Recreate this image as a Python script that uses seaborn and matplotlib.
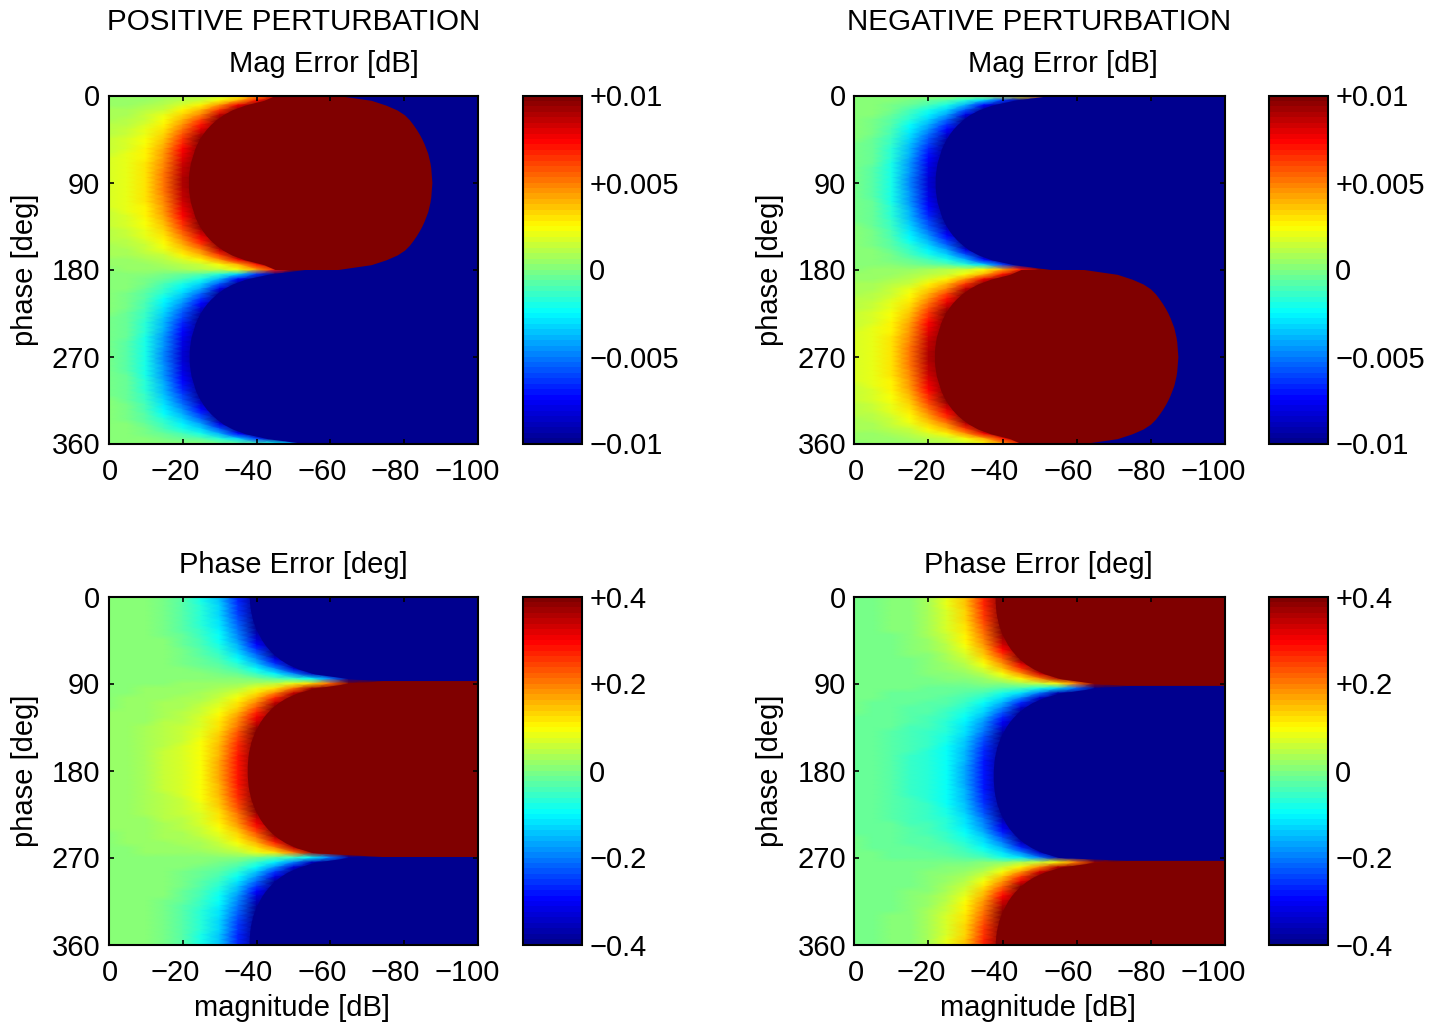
import numpy as np
import matplotlib
matplotlib.use("Agg")
import matplotlib.pyplot as plt
from matplotlib.colors import LinearSegmentedColormap
from matplotlib.transforms import ScaledTranslation
import seaborn as sns

# Values, in 1/100 of each colour range.
# Columns: magnitude 0, -5, ... dB. Rows: distance from the lobe edge, 0, 5, ... 90 deg.
MAG_RED_LOBE = [
    [3, 4, 4, 5, 7, 10, 15, 24, 41, 70, 100, 100, 100, -100],
    [4, 5, 5, 7, 10, 15, 24, 40, 69, 100, 100, 100, 100, 100],
    [5, 6, 8, 11, 18, 26, 45, 78, 100, 100, 100, 100, 100, 100],
    [7, 8, 10, 15, 25, 38, 65, 100, 100, 100, 100, 100, 100, 100],
    [8, 9, 13, 19, 32, 49, 85, 100, 100, 100, 100, 100, 100, 100],
    [9, 11, 15, 23, 39, 60, 100, 100, 100, 100, 100, 100, 100, 100],
    [10, 12, 17, 27, 45, 70, 100, 100, 100, 100, 100, 100, 100, 100],
    [11, 13, 19, 31, 52, 80, 100, 100, 100, 100, 100, 100, 100, 100],
    [12, 15, 21, 34, 58, 90, 100, 100, 100, 100, 100, 100, 100, 100],
    [13, 16, 23, 37, 63, 98, 100, 100, 100, 100, 100, 100, 100, 100],
    [14, 17, 24, 40, 68, 100, 100, 100, 100, 100, 100, 100, 100, 100],
    [14, 18, 26, 42, 73, 100, 100, 100, 100, 100, 100, 100, 100, 100],
    [15, 19, 27, 45, 77, 100, 100, 100, 100, 100, 100, 100, 100, 100],
    [16, 19, 28, 46, 80, 100, 100, 100, 100, 100, 100, 100, 100, 100],
    [16, 20, 29, 48, 83, 100, 100, 100, 100, 100, 100, 100, 100, 100],
    [17, 20, 30, 49, 85, 100, 100, 100, 100, 100, 100, 100, 100, 100],
    [17, 21, 31, 50, 87, 100, 100, 100, 100, 100, 100, 100, 100, 100],
    [17, 21, 31, 51, 88, 100, 100, 100, 100, 100, 100, 100, 100, 100],
    [17, 21, 31, 51, 88, 100, 100, 100, 100, 100, 100, 100, 100, 100],
]
MAG_BLUE_LOBE = [
    [3, 3, 3, 2, 1, 0, -2, -6, -12, -24, -45, -83, -100, -100],
    [3, 2, 1, -1, -4, -9, -18, -34, -63, -100, -100, -100, -100, -100],
    [2, 1, -1, -6, -12, -20, -39, -72, -100, -100, -100, -100, -100, -100],
    [2, 0, -3, -10, -19, -32, -59, -100, -100, -100, -100, -100, -100, -100],
    [1, 0, -5, -14, -26, -43, -79, -100, -100, -100, -100, -100, -100, -100],
    [1, -1, -7, -18, -33, -54, -98, -100, -100, -100, -100, -100, -100, -100],
    [1, -2, -9, -22, -40, -65, -100, -100, -100, -100, -100, -100, -100, -100],
    [0, -3, -10, -26, -46, -74, -100, -100, -100, -100, -100, -100, -100, -100],
    [0, -3, -12, -29, -52, -84, -100, -100, -100, -100, -100, -100, -100, -100],
    [0, -4, -13, -32, -57, -92, -100, -100, -100, -100, -100, -100, -100, -100],
    [-1, -5, -15, -35, -62, -100, -100, -100, -100, -100, -100, -100, -100, -100],
    [-1, -5, -16, -38, -67, -100, -100, -100, -100, -100, -100, -100, -100, -100],
    [-1, -6, -17, -40, -71, -100, -100, -100, -100, -100, -100, -100, -100, -100],
    [-2, -6, -18, -42, -74, -100, -100, -100, -100, -100, -100, -100, -100, -100],
    [-2, -6, -19, -44, -77, -100, -100, -100, -100, -100, -100, -100, -100, -100],
    [-2, -7, -19, -45, -79, -100, -100, -100, -100, -100, -100, -100, -100, -100],
    [-2, -7, -20, -46, -81, -100, -100, -100, -100, -100, -100, -100, -100, -100],
    [-2, -7, -20, -47, -82, -100, -100, -100, -100, -100, -100, -100, -100, -100],
    [-2, -7, -20, -47, -82, -100, -100, -100, -100, -100, -100, -100, -100, -100],
]
MAG_NEG_TOP_ROW = [3, 3, 3, 4, 4, 5, 6, 9, 14, 24, 45, 80, -100, -100]
# dB where saturation starts and where the red lobe ends, rows 0, 5, ... 90 deg
MAG_RED_START_DB = [45, 42, 36.8, 33.3, 30.9, 29.1, 27.6, 26.4, 25.4, 24.6, 23.9, 23.3,
                    22.9, 22.5, 22.1, 21.9, 21.7, 21.6, 21.6]
MAG_BLUE_START_DB = [53, 43, 37, 33.5, 31, 29.3, 27.8, 26.6, 25.6, 24.8, 24.1, 23.5,
                     23.1, 22.7, 22.3, 22.1, 21.9, 21.8, 21.8]
MAG_RED_END_DB = [62, 71, 75, 78, 80, 81.3, 82.3, 83.2, 84, 84.7, 85.3, 85.8,
                  86.3, 86.6, 86.9, 87.1, 87.2, 87.3, 87.4]

# Phase error, positive perturbation, rows 0, 5, ... 85 deg (blue) and 90 ... 180 deg (red)
PHASE_BLUE_ROWS = [
    [3, 2, 0, -2, -9, -19, -35, -67, -100, -100, -100, -100, -100, -100, -100, -100],
    [3, 2, 0, -2, -9, -19, -35, -66, -100, -100, -100, -100, -100, -100, -100, -100],
    [3, 2, 0, -2, -9, -18, -34, -65, -100, -100, -100, -100, -100, -100, -100, -100],
    [3, 2, 0, -2, -8, -18, -33, -64, -100, -100, -100, -100, -100, -100, -100, -100],
    [3, 2, 0, -2, -8, -17, -32, -62, -100, -100, -100, -100, -100, -100, -100, -100],
    [3, 2, 0, -1, -8, -17, -31, -59, -100, -100, -100, -100, -100, -100, -100, -100],
    [3, 2, 0, -1, -7, -16, -29, -56, -100, -100, -100, -100, -100, -100, -100, -100],
    [3, 2, 1, -1, -7, -14, -27, -53, -96, -100, -100, -100, -100, -100, -100, -100],
    [3, 2, 1, -1, -6, -13, -25, -49, -89, -100, -100, -100, -100, -100, -100, -100],
    [3, 2, 1, 0, -5, -12, -23, -44, -82, -100, -100, -100, -100, -100, -100, -100],
    [3, 2, 1, 0, -4, -10, -20, -40, -73, -100, -100, -100, -100, -100, -100, -100],
    [3, 2, 1, 0, -3, -9, -17, -35, -64, -100, -100, -100, -100, -100, -100, -100],
    [3, 3, 2, 1, -3, -7, -15, -29, -55, -99, -100, -100, -100, -100, -100, -100],
    [3, 3, 2, 1, -2, -5, -12, -24, -45, -81, -100, -100, -100, -100, -100, -100],
    [3, 3, 2, 1, -1, -4, -8, -18, -35, -63, -100, -100, -100, -100, -100, -100],
    [3, 3, 2, 2, 0, -2, -5, -12, -24, -45, -83, -100, -100, -100, -100, -100],
    [3, 3, 3, 2, 1, 0, -2, -6, -13, -26, -49, -89, -100, -100, -100, -100],
    [3, 3, 3, 3, 2, 2, 1, 0, -3, -7, -15, -28, -52, -94, -100, -100],
]
PHASE_RED_ROWS = [
    [3, 3, 3, 3, 4, 4, 5, 6, 8, 12, 20, 33, 56, 98, 100, 100],
    [3, 3, 4, 4, 5, 6, 8, 12, 19, 31, 53, 92, 100, 100, 100, 100],
    [3, 3, 4, 5, 6, 8, 11, 18, 29, 49, 85, 100, 100, 100, 100, 100],
    [3, 4, 5, 6, 7, 9, 14, 23, 39, 68, 100, 100, 100, 100, 100, 100],
    [3, 4, 5, 7, 8, 11, 18, 29, 49, 85, 100, 100, 100, 100, 100, 100],
    [3, 4, 5, 8, 9, 13, 21, 34, 58, 100, 100, 100, 100, 100, 100, 100],
    [4, 4, 6, 8, 11, 14, 23, 40, 67, 100, 100, 100, 100, 100, 100, 100],
    [4, 4, 6, 9, 12, 16, 26, 44, 76, 100, 100, 100, 100, 100, 100, 100],
    [4, 4, 6, 10, 12, 17, 29, 49, 84, 100, 100, 100, 100, 100, 100, 100],
    [4, 4, 7, 10, 13, 18, 31, 53, 91, 100, 100, 100, 100, 100, 100, 100],
    [4, 5, 7, 11, 14, 20, 33, 57, 98, 100, 100, 100, 100, 100, 100, 100],
    [4, 5, 7, 11, 15, 21, 35, 60, 100, 100, 100, 100, 100, 100, 100, 100],
    [4, 5, 7, 12, 15, 22, 37, 63, 100, 100, 100, 100, 100, 100, 100, 100],
    [4, 5, 8, 12, 16, 22, 38, 66, 100, 100, 100, 100, 100, 100, 100, 100],
    [4, 5, 8, 13, 16, 23, 39, 68, 100, 100, 100, 100, 100, 100, 100, 100],
    [4, 5, 8, 13, 17, 23, 40, 69, 100, 100, 100, 100, 100, 100, 100, 100],
    [4, 5, 8, 13, 17, 24, 41, 70, 100, 100, 100, 100, 100, 100, 100, 100],
    [4, 5, 8, 13, 17, 24, 41, 71, 100, 100, 100, 100, 100, 100, 100, 100],
    [4, 5, 8, 13, 17, 24, 41, 71, 100, 100, 100, 100, 100, 100, 100, 100],
]
# dB where saturation starts, rows 0 ... 85 deg and 90 ... 180 deg
PHASE_BLUE_START_DB = [38, 38.1, 38.2, 38.4, 38.7, 39, 39.5, 40, 40.7, 41.4, 42.3, 43.4,
                       44.7, 46.3, 48.4, 51.3, 55.6, 65]
PHASE_RED_START_DB = [64.6, 55.2, 50.8, 47.9, 45.8, 44.2, 42.9, 41.8, 40.9, 40.2, 39.5,
                      39, 38.5, 38.2, 37.9, 37.7, 37.6, 37.5, 37.5]
PHASE_STEP_TIP_DB = 74
# phase where the red/blue step sits at large attenuation
PHASE_STEP_POS_DEG = [87, 269]
PHASE_STEP_NEG_DEG = [92, 273]

MAG_RANGE = 0.01
PHASE_RANGE = 0.4
MAG_TICKS = [0.01, 0.005, 0, -0.005, -0.01]
MAG_TICKLABELS = ["+0.01", "+0.005", "0", "\u22120.005", "\u22120.01"]
PHASE_TICKS = [0.4, 0.2, 0, -0.2, -0.4]
PHASE_TICKLABELS = ["+0.4", "+0.2", "0", "\u22120.2", "\u22120.4"]
X_TICKS_DB = [0, 20, 40, 60, 80, 100]
X_TICKLABELS = ["0", "\u221220", "\u221240", "\u221260", "\u221280", "\u2212100"]
Y_TICKS_DEG = [0, 90, 180, 270, 360]
Y_TICKLABELS = ["0", "90", "180", "270", "360"]
X_LABEL_SHIFT_PX = [1, -7, -8, -8, -9, -11]

W, H = 1445, 1028
DB_STEP, DEG_STEP, N_COLS = 5, 5, 21
DARK_BLUE = (0, 0, 0.5625)
DARK_RED = (0.5, 0, 0)

sns.set_theme(style="white")
plt.rcParams["font.family"] = ["Liberation Sans", "DejaVu Sans"]
plt.rcParams["font.size"] = 21
plt.rcParams["text.color"] = "black"
plt.rcParams["axes.labelcolor"] = "black"
plt.rcParams["xtick.color"] = "black"
plt.rcParams["ytick.color"] = "black"

jet64 = LinearSegmentedColormap.from_list(
    "matlab_jet",
    [(0, DARK_BLUE), (1 / 8, (0, 0, 1)), (3 / 8, (0, 1, 1)), (5 / 8, (1, 1, 0)),
     (7 / 8, (1, 0, 0)), (1, DARK_RED)],
    N=64,
)


def widen(rows):
    rows = np.asarray(rows, dtype=float)
    return np.pad(rows, ((0, 0), (0, N_COLS - rows.shape[1])), mode="edge")


red = widen(MAG_RED_LOBE)
blue = widen(MAG_BLUE_LOBE)
top_row = widen([MAG_NEG_TOP_ROW])
mag_pos = np.vstack([red, red[-2::-1], blue[1:], blue[-2::-1]]) * MAG_RANGE / 100
mag_neg = np.vstack([top_row, blue[1:], blue[-2:0:-1], red[:1], red[1:], red[-2::-1]]) * MAG_RANGE / 100

pb = widen(PHASE_BLUE_ROWS)
pr = widen(PHASE_RED_ROWS)
phase_pos = np.vstack([pb, pr, pr[-2:0:-1], pb[::-1], pb[:1]]) * PHASE_RANGE / 100
phase_neg = -np.roll(phase_pos, 1, axis=0)

fig = plt.figure(figsize=(W / 100, H / 100), dpi=100)


def px_axes(x0, y0, x1, y1):
    return fig.add_axes([x0 / W, 1 - y1 / H, (x1 - x0) / W, (y1 - y0) / H])


def panel(data, rng, ticks, ticklabels, left, top, cb_left, title, title_x, xlabel=False):
    ax = px_axes(left, top, left + 370, top + 348)
    cax = px_axes(cb_left, top, cb_left + 59, top + 348)
    sns.heatmap(data, ax=ax, cbar_ax=cax, cmap=jet64, vmin=-rng, vmax=rng,
                shading="gouraud", xticklabels=False, yticklabels=False,
                cbar_kws={"ticks": ticks})
    ax.set_xlim(0, N_COLS - 1)
    ax.set_ylim(data.shape[0] - 1, 0)
    ax.set_axisbelow(False)
    ax.set_xticks([v / DB_STEP for v in X_TICKS_DB], X_TICKLABELS)
    ax.set_yticks([v / DEG_STEP for v in Y_TICKS_DEG], Y_TICKLABELS, rotation=0)
    ax.tick_params(axis="both", which="major", direction="in", length=3.5, width=1.2, color="black",
                   labelcolor="black", top=True, right=True, bottom=True, left=True, labelsize=21)
    ax.tick_params(axis="x", pad=10.3)
    ax.tick_params(axis="y", pad=6)
    for lab, dx in zip(ax.get_xticklabels(), X_LABEL_SHIFT_PX):
        lab.set_transform(lab.get_transform() + ScaledTranslation(dx / 100, 0, fig.dpi_scale_trans))
    for s in ax.spines.values():
        s.set_visible(True)
        s.set_linewidth(1.5)
        s.set_color("black")
    ax.set_title(title, x=(title_x - left) / 370, y=1, pad=16.8, fontsize=21, color="black")
    ax.set_ylabel("phase [deg]", fontsize=21, va="center", color="black")
    ax.yaxis.set_label_coords(-84 / 370, 0.5)
    if xlabel:
        ax.set_xlabel("magnitude [dB]", fontsize=21, va="center", color="black")
        ax.xaxis.set_label_coords(0.497, -63 / 348)
    cb = ax.collections[0].colorbar
    cb.outline.set_linewidth(1.5)
    cb.outline.set_edgecolor("black")
    cb.set_ticks(ticks, labels=ticklabels)
    cax.tick_params(axis="y", direction="in", length=3.5, width=1.2, color="black",
                    labelcolor="black", left=True, right=True, labelsize=21, pad=5.5)
    return ax


def fill_lobe(ax, phases, starts, color, z=2):
    ax.fill_betweenx(np.asarray(phases, dtype=float) / DEG_STEP, np.asarray(starts, dtype=float) / DB_STEP,
                     N_COLS - 1, color=color, lw=0, zorder=z)


def mirrored(values):
    v = np.asarray(values, dtype=float)
    return np.concatenate([v, v[-2::-1]])


mag_rows = np.arange(37) * DEG_STEP

a1 = panel(mag_pos, MAG_RANGE, MAG_TICKS, MAG_TICKLABELS, 108.5, 95.5, 522.5, "Mag Error [dB]", 324)
fill_lobe(a1, mag_rows, mirrored(MAG_RED_START_DB), DARK_RED)
fill_lobe(a1, mag_rows, mirrored(MAG_RED_END_DB), DARK_BLUE, 2.1)
fill_lobe(a1, mag_rows + 180, mirrored(MAG_BLUE_START_DB), DARK_BLUE)

a2 = panel(mag_neg, MAG_RANGE, MAG_TICKS, MAG_TICKLABELS, 854.5, 95.5, 1268.5, "Mag Error [dB]", 1063)
fill_lobe(a2, mag_rows, mirrored(MAG_BLUE_START_DB), DARK_BLUE)
fill_lobe(a2, mag_rows + 180, mirrored(MAG_RED_START_DB), DARK_RED)
fill_lobe(a2, mag_rows + 180, mirrored(MAG_RED_END_DB), DARK_BLUE, 2.1)

a3 = panel(phase_pos, PHASE_RANGE, PHASE_TICKS, PHASE_TICKLABELS, 108.5, 596.5, 522.5,
           "Phase Error [deg]", 293, xlabel=True)
a4 = panel(phase_neg, PHASE_RANGE, PHASE_TICKS, PHASE_TICKLABELS, 854.5, 596.5, 1268.5,
           "Phase Error [deg]", 1038, xlabel=True)

tip = PHASE_STEP_TIP_DB
bs = list(PHASE_BLUE_START_DB)
rs = list(PHASE_RED_START_DB)
blue_phases = list(range(0, 90, DEG_STEP))
red_phases = list(range(90, 270, DEG_STEP))
red_starts = rs + rs[-2:0:-1]

e1, e2 = PHASE_STEP_POS_DEG
fill_lobe(a3, blue_phases + [e1], bs + [tip], DARK_BLUE)
fill_lobe(a3, [e1] + red_phases + [e2], [tip] + red_starts + [tip], DARK_RED)
fill_lobe(a3, [e2] + list(range(270, 360, DEG_STEP)) + [360], [tip] + bs[::-1] + [bs[0]], DARK_BLUE)

e1, e2 = PHASE_STEP_NEG_DEG
fill_lobe(a4, [0] + [p + DEG_STEP for p in blue_phases] + [e1], [bs[0]] + bs + [tip], DARK_RED)
fill_lobe(a4, [e1] + [p + DEG_STEP for p in red_phases] + [e2], [tip] + red_starts + [tip], DARK_BLUE)
fill_lobe(a4, [e2] + list(range(275, 365, DEG_STEP)), [tip] + bs[::-1], DARK_RED)

fig.text(293.5 / W, 1 - 22.5 / H, "POSITIVE PERTURBATION", ha="center", va="center", fontsize=21.3)
fig.text(1039.5 / W, 1 - 22.5 / H, "NEGATIVE PERTURBATION", ha="center", va="center", fontsize=21.3)

fig.savefig("out.png", dpi=100)
